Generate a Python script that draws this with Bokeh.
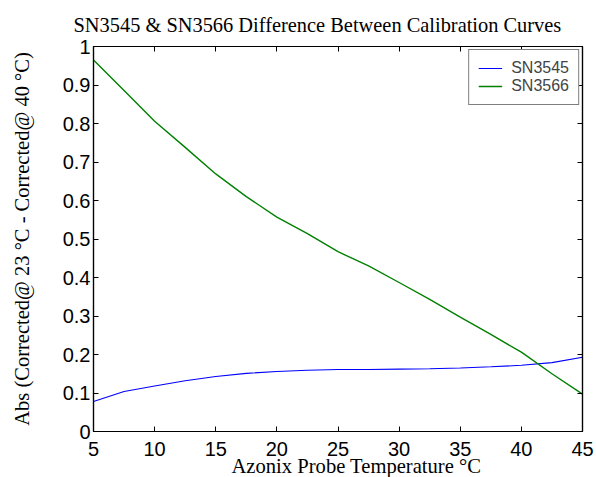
from bokeh.plotting import figure
from bokeh.models import Range1d, LinearAxis, FixedTicker, Title
from bokeh.embed import file_html
from bokeh.resources import INLINE

# ---- data ----
temps = [5, 7.5, 10, 12.5, 15, 17.5, 20, 22.5, 25, 27.5, 30, 32.5, 35, 37.5, 40, 42.5, 45]
sn3545 = [0.078, 0.104, 0.118, 0.132, 0.143, 0.151, 0.156, 0.159, 0.161, 0.161,
          0.162, 0.163, 0.165, 0.168, 0.172, 0.179, 0.193]
sn3566 = [0.965, 0.886, 0.806, 0.738, 0.669, 0.610, 0.557, 0.514, 0.467, 0.430,
          0.387, 0.343, 0.297, 0.252, 0.206, 0.150, 0.097]
x_ticks = [5, 10, 15, 20, 25, 30, 35, 40, 45]
y_ticks = [0, 0.1, 0.2, 0.3, 0.4, 0.5, 0.6, 0.7, 0.8, 0.9, 1]
y_tick_labels = ["0", "0.1", "0.2", "0.3", "0.4", "0.5", "0.6", "0.7", "0.8", "0.9", "1"]

title_text = "SN3545 & SN3566 Difference Between Calibration Curves"
x_label = "Azonix Probe Temperature °C"
y_label = "Abs (Corrected@ 23 °C - Corrected@ 40 °C)"

SANS = "Liberation Sans"
SERIF = "Liberation Serif"

p = figure(width=596, height=477, output_backend="svg", toolbar_location=None,
           x_range=Range1d(5, 45), y_range=Range1d(0, 1),
           min_border_left=93, min_border_right=14, min_border_top=46, min_border_bottom=46,
           background_fill_color="white", border_fill_color="white")

p.title.text = title_text
p.title.text_font = SERIF
p.title.text_font_size = "20.4px"
p.title.text_font_style = "normal"
p.title.align = "left"
p.title.offset = -20
p.title.standoff = 22
p.title.text_color = "black"

p.grid.visible = False
p.outline_line_color = "black"
p.outline_line_width = 1.2

# main axes
for ax in (p.xaxis[0], p.yaxis[0]):
    ax.major_label_text_font = SANS
    ax.major_label_text_font_size = "20px"
    ax.major_label_text_color = "black"
    ax.major_tick_in = 5
    ax.major_tick_out = 0
    ax.minor_tick_line_color = None
    ax.axis_line_color = "black"
    ax.axis_line_width = 1.2
    ax.major_tick_line_color = "black"

p.xaxis[0].ticker = FixedTicker(ticks=x_ticks)
p.xaxis[0].major_label_standoff = 10
p.yaxis[0].ticker = FixedTicker(ticks=y_ticks)
p.yaxis[0].major_label_overrides = {t: s for t, s in zip(y_ticks, y_tick_labels)}
p.yaxis[0].major_label_standoff = 3
p.yaxis[0].axis_label = y_label
p.yaxis[0].axis_label_text_font = SERIF
p.yaxis[0].axis_label_text_font_size = "20.5px"
p.yaxis[0].axis_label_text_font_style = "normal"
p.yaxis[0].axis_label_text_color = "black"
p.yaxis[0].axis_label_standoff = 27

# top and right tick-only axes (labels not drawn)
top = LinearAxis(ticker=FixedTicker(ticks=x_ticks))
right = LinearAxis(ticker=FixedTicker(ticks=y_ticks))
for ax in (top, right):
    ax.major_label_text_font_size = "1px"
    ax.major_label_text_color = None
    ax.major_label_standoff = 0
    ax.major_tick_in = 5
    ax.major_tick_out = 0
    ax.minor_tick_line_color = None
    ax.axis_line_color = "black"
    ax.axis_line_width = 1.2
p.add_layout(top, "above")
p.add_layout(right, "right")

# x-axis label as a title below the axis
xt = Title(text=x_label, text_font=SERIF, text_font_size="20.6px", text_font_style="normal",
           text_color="black", align="left", offset=138, standoff=-12)
p.add_layout(xt, "below")

p.line(temps, sn3545, line_color="#0000ff", line_width=1.1, legend_label="SN3545")
p.line(temps, sn3566, line_color="#008000", line_width=1.4, legend_label="SN3566")

lg = p.legend[0]
lg.location = "top_right"
lg.margin = 3
lg.padding = 9
lg.spacing = 0
lg.glyph_width = 24
lg.label_standoff = 9
lg.label_text_font = SANS
lg.label_text_font_size = "16px"
lg.label_height = 18
lg.glyph_height = 18
lg.border_line_color = "black"
lg.border_line_width = 1.2
lg.background_fill_color = "white"
lg.background_fill_alpha = 1

open("out.html", "w").write(file_html(p, INLINE))
